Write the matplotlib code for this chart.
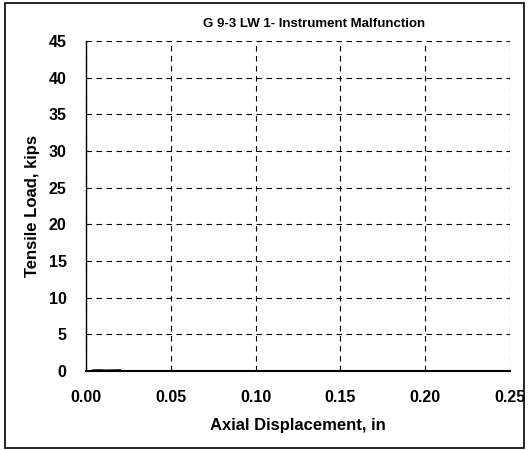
import matplotlib
matplotlib.use("Agg")
import matplotlib.pyplot as plt
from matplotlib.patches import Rectangle

plt.rcParams['font.family'] = ['Liberation Sans', 'DejaVu Sans']

TITLE = "G 9-3 LW 1- Instrument Malfunction"

# the only readings recorded before the instrument failed
disp_in = [0.004, 0.008, 0.012, 0.016, 0.020]
load_kips = [0.05, 0.08, 0.03, 0.06, 0.08]

x_ticks = [0.00, 0.05, 0.10, 0.15, 0.20, 0.25]
y_ticks = [0, 5, 10, 15, 20, 25, 30, 35, 40, 45]

fig = plt.figure(figsize=(5.29, 4.5), dpi=100)
ax = fig.add_axes([0.1626, 0.176, 0.801, 0.733])

ax.plot(disp_in, load_kips, color='black', lw=1.5)

ax.set_xlim(0, 0.25)
ax.set_ylim(0, 45)
ax.set_xticks(x_ticks)
ax.set_yticks(y_ticks)
ax.set_xticklabels(["%.2f" % v for v in x_ticks], fontsize=11.5, fontweight='bold')
ax.set_yticklabels([str(v) for v in y_ticks], fontsize=11.5, fontweight='bold')
ax.tick_params(length=0)
ax.tick_params(axis='x', pad=14)
ax.tick_params(axis='y', pad=14)

ax.grid(True, color='black', linestyle=(0, (5, 4)), linewidth=0.8)
ax.spines['top'].set_visible(False)
ax.spines['right'].set_visible(False)
ax.spines['left'].set_linewidth(1.0)
ax.spines['bottom'].set_linewidth(1.5)

ax.set_xlabel("Axial Displacement, in", fontsize=12, fontweight='bold', labelpad=9)
ax.set_ylabel("Tensile Load, kips", fontsize=12, fontweight='bold', labelpad=6)
fig.text(0.5945, 0.947, TITLE, fontsize=9.5, fontweight='bold', ha='center', va='center')

fig.patches.append(Rectangle((0.009, 0.005), 0.982, 0.989, transform=fig.transFigure,
                             fill=False, edgecolor='black', linewidth=1.2))

fig.savefig("out.png", dpi=100)
